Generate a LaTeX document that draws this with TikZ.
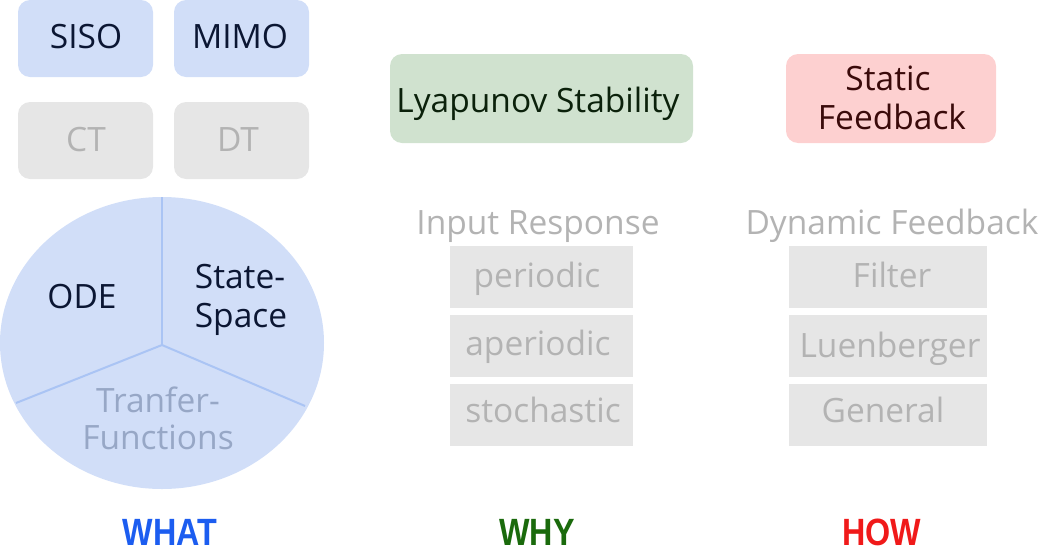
\documentclass[tikz,border=0pt]{standalone}
\usepackage{fontspec}
\setmainfont{Open Sans}
\newfontfamily\condfont[FakeStretch=0.85]{Liberation Sans}
\definecolor{bluefill}{HTML}{D1DEF8}
\definecolor{blueline}{HTML}{AAC4F4}
\definecolor{navy}{HTML}{0B1633}
\definecolor{grayfill}{HTML}{E6E6E6}
\definecolor{graytext}{HTML}{B3B3B3}
\definecolor{greenfill}{HTML}{D0E2CF}
\definecolor{greentext}{HTML}{0B210B}
\definecolor{redfill}{HTML}{FDD0D0}
\definecolor{redtext}{HTML}{3A0A0A}
\definecolor{tftext}{HTML}{97A7C6}
\definecolor{whatblue}{HTML}{1C5DF0}
\definecolor{whygreen}{HTML}{1A6A0C}
\definecolor{howred}{HTML}{F01A1A}
\tikzset{
  base/.style={font=\fontsize{33.5}{39}\selectfont, inner sep=0pt},
  roundbox/.style={base, rounded corners=12pt, minimum width=135pt, minimum height=77pt},
  bluebox/.style={roundbox, fill=bluefill},
  graybox/.style={roundbox, fill=grayfill},
  flatbox/.style={fill=grayfill, inner sep=0pt, minimum height=62pt},
  txt/.style={base, anchor=base},
  navytxt/.style={txt, text=navy},
  graytxt/.style={txt, text=graytext},
  tagtxt/.style={inner sep=0pt, anchor=base, font=\condfont\bfseries\fontsize{38}{38}\selectfont},
  divider/.style={draw=blueline, line width=2pt}
}
\begin{document}
\begin{tikzpicture}[x=1pt,y=-1pt]
\useasboundingbox (0,0) rectangle (1041,552);
% WHAT column
\node[bluebox] (siso) at (85.5,38.5) {};
\node[bluebox] (mimo) at (241.5,38.5) {};
\node[graybox] (ct) at (85.5,140.5) {};
\node[graybox] (dt) at (241.5,140.5) {};
\node[navytxt] (sisot) at (86,48) {SISO};
\node[navytxt] (mimot) at (240,48) {MIMO};
\node[graytxt] (ctt) at (86,151) {CT};
\node[graytxt] (dtt) at (238,151) {DT};
\fill[bluefill] (162,343) ellipse [x radius=162, y radius=146];
\coordinate (hub) at (162,345);
\coordinate (ptop) at (162,197);
\coordinate (pleft) at (16,403);
\coordinate (pright) at (305,406);
\draw[divider] (hub) -- (ptop);
\draw[divider] (hub) -- (pleft);
\draw[divider] (hub) -- (pright);
\node[navytxt] (ode) at (82,308) {ODE};
\node[navytxt] (ss1) at (240,288) {State-};
\node[navytxt] (ss2) at (241,327) {Space};
\node[txt, text=tftext] (tf1) at (158,412) {Tranfer-};
\node[txt, text=tftext] (tf2) at (158,449) {Functions};
% WHY column
\node[roundbox, fill=greenfill, minimum width=303pt, minimum height=89pt] (lyap) at (541.5,98.5) {};
\node[txt, text=greentext] (lyapt) at (538,112) {Lyapunov Stability};
\node[graytxt] (inresp) at (538,234) {Input Response};
\node[flatbox, minimum width=183pt] (per) at (541.5,277) {};
\node[flatbox, minimum width=183pt] (aper) at (541.5,346) {};
\node[flatbox, minimum width=183pt] (stoch) at (541.5,415) {};
\node[graytxt] (pert) at (537,287) {periodic};
\node[graytxt] (apert) at (538,355) {aperiodic};
\node[graytxt] (stocht) at (543,422) {stochastic};
% HOW column
\node[roundbox, fill=redfill, minimum width=210pt, minimum height=89pt] (stat) at (891,98.5) {};
\node[txt, text=redtext] (stat1) at (888,90) {Static};
\node[txt, text=redtext] (stat2) at (892,129) {Feedback};
\node[graytxt] (dyn) at (892,234) {Dynamic Feedback};
\node[flatbox, minimum width=198pt] (filt) at (888,277) {};
\node[flatbox, minimum width=198pt] (luen) at (888,346) {};
\node[flatbox, minimum width=198pt] (gen) at (888,415) {};
\node[graytxt] (filtt) at (892,287) {Filter};
\node[graytxt] (luent) at (890,357) {Luenberger};
\node[graytxt] (gent) at (883,422) {General};
% column tags
\node[tagtxt, text=whatblue] (what) at (170,545) {WHAT};
\node[tagtxt, text=whygreen] (why) at (537,545) {WHY};
\node[tagtxt, text=howred] (how) at (882,545) {HOW};
\end{tikzpicture}
\end{document}
